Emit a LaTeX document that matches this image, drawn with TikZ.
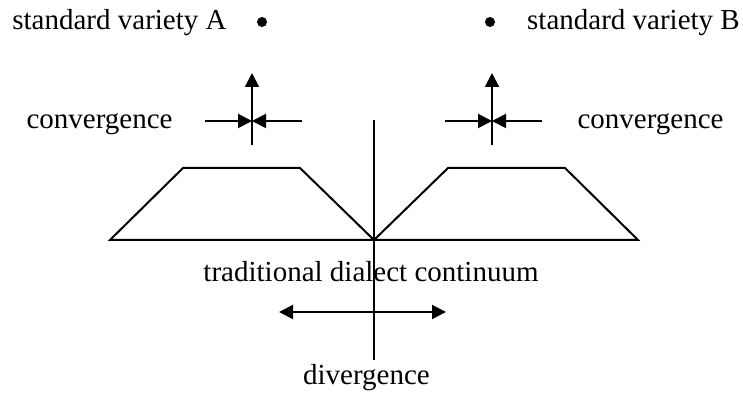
\documentclass[tikz,border=0pt]{standalone}
\usepackage{fontspec}
\setmainfont{Liberation Serif}
\usetikzlibrary{arrows.meta}

\tikzset{
  lbl/.style={inner sep=0pt,anchor=base,font=\fontsize{14.5}{17}\selectfont},
  dot/.style={circle,fill,inner sep=0pt,minimum size=5pt},
  tip/.style={-{Triangle[length=7pt,width=7pt]}},
  both/.style={{Triangle[length=7pt,width=7pt]}-{Triangle[length=7pt,width=7pt]}}
}

\begin{document}
\begin{tikzpicture}[x=0.5pt,y=-0.5pt,line width=1pt]
\useasboundingbox (0,0) rectangle (743,394);
   \node[lbl] at (119.5,30) (stdA) {standard variety A};
   \node[lbl] at (633.5,30) (stdB) {standard variety B};
   \node[dot] at (262,22) (dotA) {};
   \node[dot] at (490,22) (dotB) {};

   \node[lbl] at (99.5,129) (convA) {convergence};
   \node[lbl] at (650.5,129) (convB) {convergence};
   \node[lbl] at (371,282) (cont) {traditional dialect continuum};
   \node[lbl] at (366.5,385) (div) {divergence};

   % left convergence arrows
   \coordinate (mA) at (252,121);
   \coordinate (upA) at (252,73);
   \coordinate (loA) at (252,145);
   \coordinate (lA) at (205,121);
   \coordinate (rA) at (302,121);
   \draw[tip] (loA) -- (upA);
   \draw[tip] (lA) -- (mA);
   \draw[tip] (rA) -- (mA);

   % right convergence arrows
   \coordinate (mB) at (492,121);
   \coordinate (upB) at (492,73);
   \coordinate (loB) at (492,145);
   \coordinate (lB) at (445,121);
   \coordinate (rB) at (542,121);
   \draw[tip] (loB) -- (upB);
   \draw[tip] (lB) -- (mB);
   \draw[tip] (rB) -- (mB);

   % the two dialect areas
   \coordinate (O) at (374,240);
   \draw (O) -- (110,240) -- (183,168) -- (300,168) -- cycle;
   \draw (O) -- (638,240) -- (565,168) -- (448,168) -- cycle;

   % axis and divergence
   \coordinate (top) at (374,120);
   \coordinate (bot) at (374,360);
   \draw (top) -- (bot);
   \coordinate (dl) at (279,312);
   \coordinate (dr) at (446,312);
   \draw[both] (dl) -- (dr);
\end{tikzpicture}
\end{document}
